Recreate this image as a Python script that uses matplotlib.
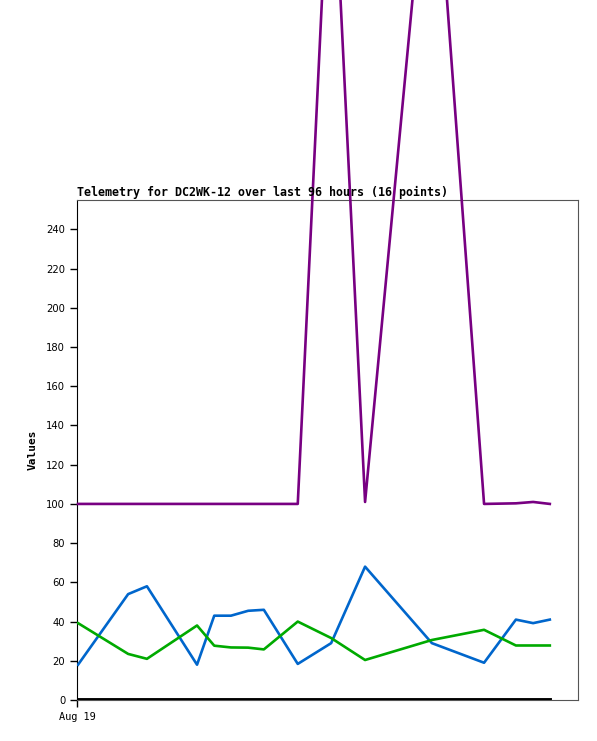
import numpy as np
import matplotlib.pyplot as plt

hours = [0.2, 9.8, 13.4, 23.0, 26.3, 29.5, 32.8, 35.8, 42.3, 48.7, 55.2, 68.0, 78.0, 84.1, 87.4, 90.6]

purple = [100, 100, 100, 100, 100, 100, 100, 100, 100, 455, 101, 462, 100, 100.3, 101, 100]
blue = [18, 54, 58, 18, 43, 43, 45.5, 46, 18.4, 29, 68, 29, 19, 41, 39.2, 41]
green = [39.2, 23.5, 21, 38, 27.7, 26.8, 26.7, 25.8, 40, 31.6, 20.4, 30.6, 35.8, 27.8, 27.8, 27.8]
zero = [0] * 16

fig = plt.figure(figsize=(5.97, 7.41), dpi=100)
ax = fig.add_axes([77/597, 41/741, 501/597, 500/741])

ax.plot(hours, purple, color='#780082', lw=1.9, clip_on=False, zorder=3)
ax.plot(hours, blue, color='#0066cc', lw=1.9, zorder=3)
ax.plot(hours, green, color='#00aa00', lw=1.9, zorder=3)
ax.plot(hours, zero, color='black', lw=2.8, zorder=4)

ax.set_xlim(0, 96)
ax.set_ylim(0, 255)
ax.set_yticks(np.arange(0, 241, 20))
ax.set_xticks([0])
ax.set_xticklabels(['Aug 19'], family='DejaVu Sans Mono', fontsize=7.4)
ax.tick_params(axis='y', labelsize=7.2, length=5, width=1)
ax.tick_params(axis='x', length=5, width=1)

for s in ['top', 'right', 'bottom']:
    ax.spines[s].set_color('#555555')
ax.spines['left'].set_color('black')

ax.set_ylabel('Values', family='DejaVu Sans Mono', fontweight='bold', fontsize=8, labelpad=6)
ax.set_title('Telemetry for DC2WK-12 over last 96 hours (16 points)', loc='left',
             family='DejaVu Sans Mono', fontweight='bold', fontsize=8.4, pad=3)

fig.savefig('out.png', dpi=100)
